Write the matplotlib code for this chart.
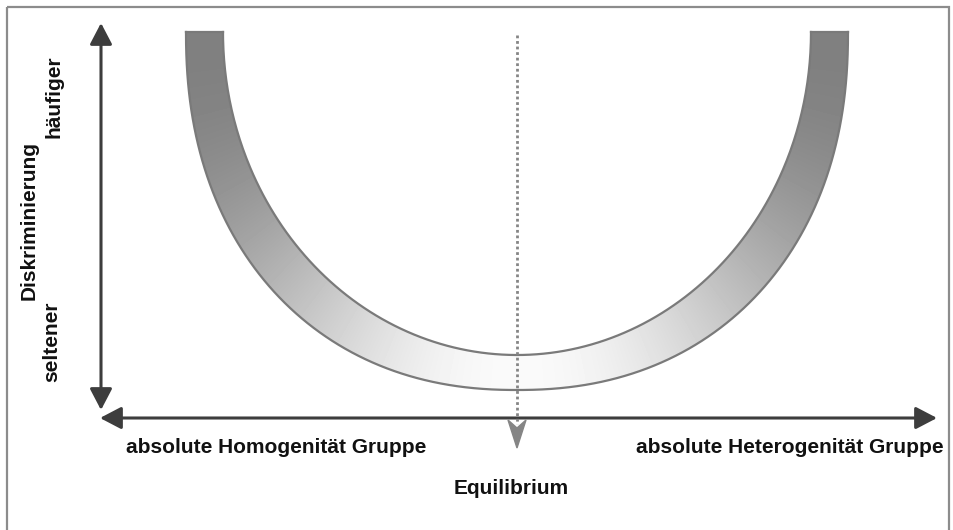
import numpy as np
import matplotlib
matplotlib.use("Agg")
import matplotlib.pyplot as plt
from matplotlib.patches import FancyArrowPatch, Polygon, Rectangle

# Texte des Diagramms
x_labels = ["absolute Homogenität Gruppe", "absolute Heterogenität Gruppe"]
mitte_label = "Equilibrium"
y_titel = "Diskriminierung"
y_labels = ["häufiger", "seltener"]

# Geometrie (Pixel des Bildes, y nach unten)
W, H = 954, 530
cx, oben = 517, 32
aussen_a, aussen_b, aussen_n = 331, 358, 2.2
innen_a, innen_b, innen_n = 294, 323, 2.0

pfeil_farbe = "#3d3d3d"
rand_farbe = "#7a7a7a"


def bogen(a, b, n, t):
    c, s = np.cos(t), np.sin(t)
    x = cx + a * np.sign(c) * np.abs(c) ** (2 / n)
    y = oben + b * np.abs(s) ** (2 / n)
    return x, y


fig = plt.figure(figsize=(W / 100, H / 100), dpi=100)
ax = fig.add_axes([0, 0, 1, 1])
ax.set_xlim(0, W)
ax.set_ylim(H, 0)
ax.axis("off")

# Rahmen
ax.add_patch(Rectangle((7, 7), 942, 540, fill=False, ec="#8c8c8c", lw=1.6))

# U-foermiges Band mit Verlauf
t = np.linspace(np.pi, 0, 400)
xa, ya = bogen(aussen_a, aussen_b, aussen_n, t)
xi, yi = bogen(innen_a, innen_b, innen_n, t[::-1])
band = np.vstack([np.column_stack([xa, ya]), np.column_stack([xi, yi])])
poly = Polygon(band, closed=True, fc="none", ec="none")
ax.add_patch(poly)

gx, gy = np.meshgrid(np.arange(150, 880), np.arange(20, 400))
winkel = np.arctan2((gy - oben) / 340.0, np.abs(gx - cx) / 312.0)
wert = 0.5 + 0.48 * np.clip(np.sin(winkel), 0, 1) ** 2.2
img = ax.imshow(wert, cmap="gray", vmin=0, vmax=1, extent=(150, 880, 400, 20),
                interpolation="bilinear", zorder=2)
img.set_clip_path(poly)

ax.plot(xa, ya, color=rand_farbe, lw=1.6, zorder=3)
ax.plot(xi, yi, color=rand_farbe, lw=1.6, zorder=3)
ax.plot([xa[0], xi[-1]], [ya[0], yi[-1]], color=rand_farbe, lw=1.6, zorder=3)
ax.plot([xa[-1], xi[0]], [ya[-1], yi[0]], color=rand_farbe, lw=1.6, zorder=3)

# Achsenpfeile
for p0, p1 in [((101, 410), (101, 23)), ((100, 418), (937, 418))]:
    ax.add_patch(FancyArrowPatch(p0, p1, arrowstyle="<|-|>,head_length=13,head_width=6.8",
                                 mutation_scale=1, color=pfeil_farbe, lw=2.2,
                                 shrinkA=0, shrinkB=0, zorder=4))

# gepunktete Mittellinie mit Spitze
ax.plot([cx, cx], [35, 424], color="#858585", lw=2.0, ls=(0, (1, 1)), zorder=5)
ax.add_patch(Polygon([(cx - 9, 420), (cx, 448), (cx + 9, 420), (cx, 428)],
                     closed=True, fc="#858585", ec="#858585", lw=1, zorder=5))

schrift = dict(family=["Liberation Sans", "DejaVu Sans"], weight="bold", color="#111111")
ax.text(276, 453, x_labels[0], ha="center", va="baseline", fontsize=15, **schrift)
ax.text(790, 453, x_labels[1], ha="center", va="baseline", fontsize=15, **schrift)
ax.text(511, 494, mitte_label, ha="center", va="baseline", fontsize=15, **schrift)
ax.text(29, 221, y_titel, ha="center", va="center", rotation=90, fontsize=15, **schrift)
ax.text(54, 97, y_labels[0], ha="center", va="center", rotation=90, fontsize=15, **schrift)
ax.text(52, 342, y_labels[1], ha="center", va="center", rotation=90, fontsize=15, **schrift)

fig.savefig("out.png", dpi=100)
